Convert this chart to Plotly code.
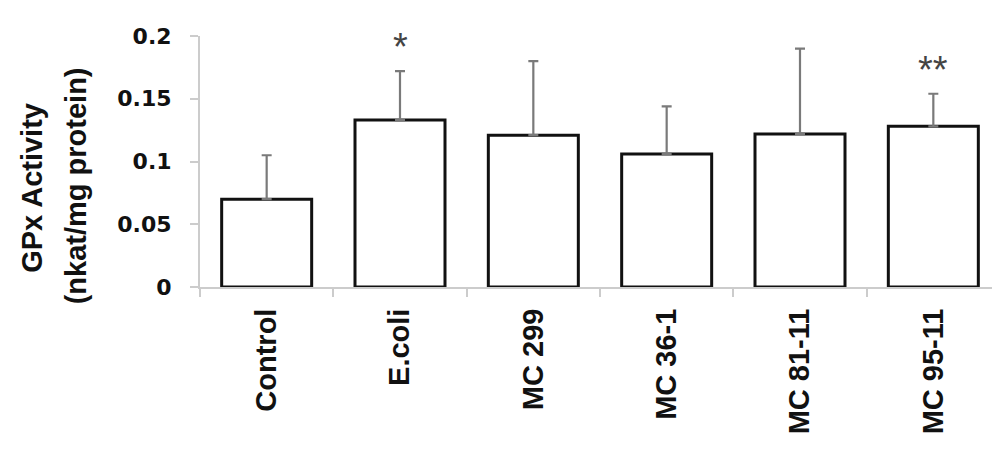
import plotly.graph_objects as go

categories = ["Control", "E.coli", "MC 299", "MC 36-1", "MC 81-11", "MC 95-11"]
means = [0.070, 0.133, 0.121, 0.106, 0.122, 0.128]
errors_up = [0.035, 0.039, 0.059, 0.038, 0.068, 0.026]
sig_labels = ["", "*", "", "", "", "**"]
sig_y = [None, 0.191, None, None, None, 0.173]
y_ticks = [0, 0.05, 0.1, 0.15, 0.2]
y_ticklabels = ["0", "0.05", "0.1", "0.15", "0.2"]

OFF = 8  # page body margin

fig = go.Figure()
fig.add_trace(go.Bar(
    x=categories, y=means, width=0.675,
    marker=dict(color="white", line=dict(color="#111111", width=3)),
    error_y=dict(type="data", array=errors_up, arrayminus=[0]*len(means),
                 symmetric=False, color="#7a7a7a", thickness=2.2, width=5),
    showlegend=False,
))

for c, s, yy in zip(categories, sig_labels, sig_y):
    if s:
        fig.add_annotation(x=c, y=yy, text=s, showarrow=False,
                           font=dict(family="Liberation Sans", size=38, color="#444444"),
                           xref="x", yref="y", yanchor="middle")

# y axis title as two rotated lines
fig.add_annotation(xref="paper", yref="paper", x=(32-200)/800, y=(287.3-188)/251.3,
                   text="<b>GPx Activity</b>", textangle=-90, showarrow=False,
                   font=dict(family="Liberation Sans", size=29, color="#111111"),
                   xanchor="center", yanchor="middle")
fig.add_annotation(xref="paper", yref="paper", x=(76-200)/800, y=(287.3-186.5)/251.3,
                   text="<b>(nkat/mg protein)</b>", textangle=-90, showarrow=False,
                   font=dict(family="Liberation Sans", size=29, color="#111111"),
                   xanchor="center", yanchor="middle")

fig.update_layout(
    width=1000, height=453,
    margin=dict(l=200-OFF, r=OFF, t=36-OFF, b=166+OFF, autoexpand=False),
    plot_bgcolor="white", paper_bgcolor="white",
    bargap=0.325,
    xaxis=dict(
        showline=True, linecolor="#cccccc", linewidth=2,
        ticks="outside", ticklen=8, tickwidth=2, tickcolor="#cccccc",
        tickson="boundaries", tickangle=-90,
        tickfont=dict(family="Liberation Sans", size=29, color="#111111", weight="bold"),
        ticklabelstandoff=8, showgrid=False, automargin=False,
    ),
    yaxis=dict(
        range=[0, 0.2], showline=True, linecolor="#cccccc", linewidth=2,
        ticks="outside", ticklen=8, tickwidth=2, tickcolor="#cccccc",
        tickvals=y_ticks, ticktext=y_ticklabels,
        tickfont=dict(family="DejaVu Sans", size=22, color="#111111", weight="bold"),
        ticklabelstandoff=14, showgrid=False, zeroline=False, automargin=False,
    ),
)

fig.write_html("out.html")
